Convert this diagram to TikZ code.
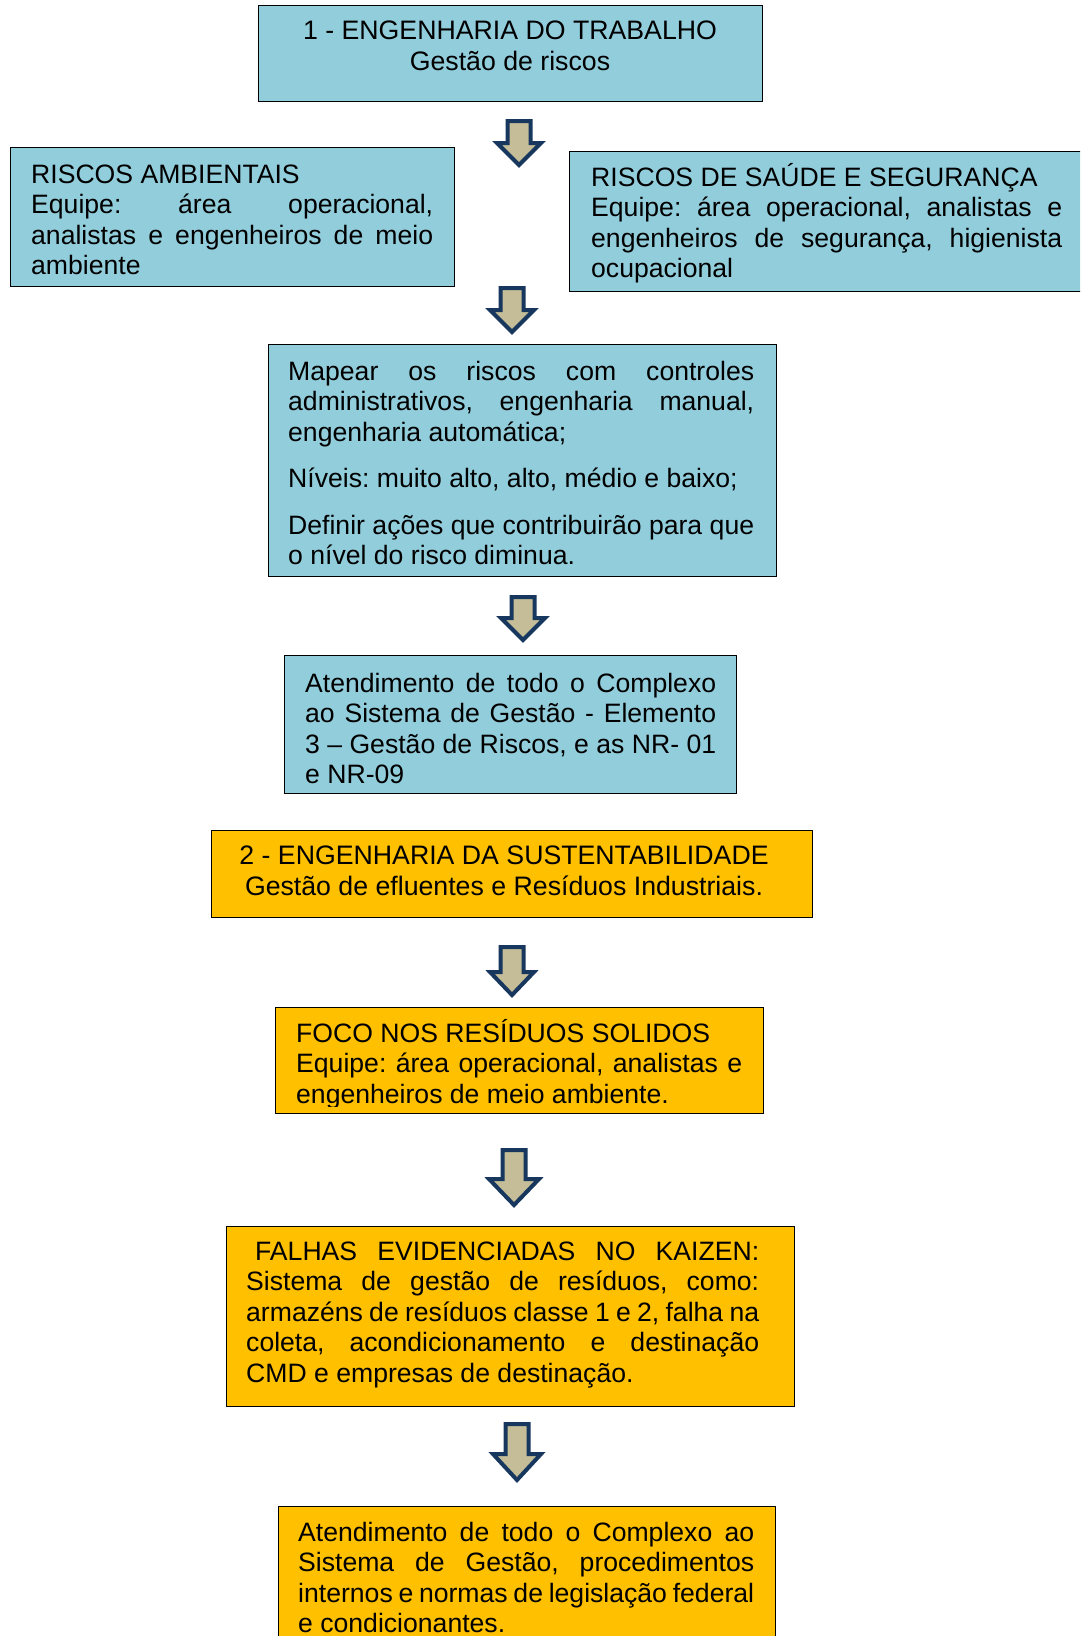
\documentclass[tikz,border=0pt]{standalone}
\usepackage{fontspec}
\setmainfont{Liberation Sans}
\frenchspacing
\definecolor{boxblue}{HTML}{92CDDC}
\definecolor{boxorange}{HTML}{FFC000}
\definecolor{arrowfill}{HTML}{C4BD97}
\definecolor{arrowline}{HTML}{17375E}
\newcommand\jl[2]{\makebox[#1][s]{#2}}
% #1 centre x, #2 top, #3 tip, #4 head half width, #5 shaft half width, #6 head length
\newcommand\blockarrow[6]{%
  \draw[barrow] ({#1-#5},#2) -- ({#1+#5},#2) -- ({#1+#5},{#3-#6}) -- ({#1+#4},{#3-#6})
    -- (#1,#3) -- ({#1-#4},{#3-#6}) -- ({#1-#5},{#3-#6}) -- cycle;}
\begin{document}
\begin{tikzpicture}[x=1pt,y=-1pt,
  box/.style={draw=black, line width=1.2pt, inner sep=0pt, anchor=north west},
  bluebox/.style={box, fill=boxblue},
  orangebox/.style={box, fill=boxorange},
  txt/.style={inner sep=0pt, anchor=base west, align=left, font=\fontsize{26.6}{30.5}\selectfont\frenchspacing,
    execute at begin node={\spaceskip=0pt\xspaceskip=0pt\relax}},
  ctxt/.style={inner sep=0pt, anchor=base, align=center, font=\fontsize{26.7}{31}\selectfont\frenchspacing,
    execute at begin node={\fontsize{26.7}{31}\selectfont\spaceskip=\fontdimen2\font\xspaceskip=\fontdimen2\font\relax}},
  barrow/.style={draw=arrowline, fill=arrowfill, line width=4pt, line join=miter}]
\useasboundingbox (0,0) rectangle (1080,1636);
\clip (0,0) rectangle (1080,1636);

% boxes
\node[bluebox, minimum width=504pt, minimum height=96pt] (b1) at (258,5) {};
\node[bluebox, minimum width=444pt, minimum height=139pt] (b2) at (10,147) {};
\node[bluebox, minimum width=530pt, minimum height=140pt] (b3) at (569,151) {};
\node[bluebox, minimum width=508pt, minimum height=232pt] (b4) at (268,344) {};
\node[bluebox, minimum width=452pt, minimum height=138pt] (b5) at (284,655) {};
\node[orangebox, minimum width=601pt, minimum height=87pt] (b6) at (211,830) {};
\node[orangebox, minimum width=488pt, minimum height=106pt] (b7) at (275,1007) {};
\node[orangebox, minimum width=568pt, minimum height=180pt] (b8) at (226,1226) {};
\node[orangebox, minimum width=497pt, minimum height=160pt] (b9) at (278,1506) {};

% texts
\node[ctxt, text width=480pt] (t1) at (510,39) {1 - ENGENHARIA DO TRABALHO\\Gestão de riscos};
\node[txt, text width=402pt] (t2) at (31,183) {RISCOS AMBIENTAIS\\
\jl{402pt}{Equipe: área operacional,}\\
\jl{402pt}{analistas e engenheiros de meio}\\
ambiente};
\node[txt, text width=471pt] (t3) at (591,186) {RISCOS DE SAÚDE E SEGURANÇA\\
\jl{471pt}{Equipe: área operacional, analistas e}\\
\jl{471pt}{engenheiros de segurança, higienista}\\
ocupacional};
\node[txt, text width=466pt] (t4) at (288,380) {\jl{466pt}{Mapear os riscos com controles}\\
\jl{466pt}{administrativos, engenharia manual,}\\
engenharia automática;\\[16pt]
Níveis: muito alto, alto, médio e baixo;\\[16pt]
\jl{466pt}{Definir ações que contribuirão para que}\\
o nível do risco diminua.};
\node[txt, text width=411pt] (t5) at (305,692) {\jl{411pt}{Atendimento de todo o Complexo}\\
\jl{411pt}{ao Sistema de Gestão - Elemento}\\
\jl{411pt}{3 – Gestão de Riscos, e as NR- 01}\\
e NR-09};
\node[ctxt, text width=590pt] (t6) at (504,864) {2 - ENGENHARIA DA SUSTENTABILIDADE\\Gestão de efluentes e Resíduos Industriais.};
\begin{scope}
\clip (275,1007) rectangle (763,1106);
\node[txt, text width=446pt] (t7) at (296,1042) {FOCO NOS RESÍDUOS SOLIDOS\\
\jl{446pt}{Equipe: área operacional, analistas e}\\
engenheiros de meio ambiente.};
\end{scope}
\node[txt, text width=513pt] (t8) at (246,1260) {\jl{513pt}{\hspace*{9pt}FALHAS EVIDENCIADAS NO KAIZEN:}\\
\jl{513pt}{Sistema de gestão de resíduos, como:}\\
\jl{513pt}{armazéns de resíduos classe 1 e 2, falha na}\\
\jl{513pt}{coleta, acondicionamento e destinação}\\
CMD e empresas de destinação.};
\node[txt, text width=456pt] (t9) at (298,1541) {\jl{456pt}{Atendimento de todo o Complexo ao}\\
\jl{456pt}{Sistema de Gestão, procedimentos}\\
\jl{456pt}{internos e normas de legislação federal}\\
e condicionantes.};

% block arrows
\blockarrow{519}{121}{165}{22}{11.5}{22}
\blockarrow{512}{288}{332}{22}{11.5}{22}
\blockarrow{523}{597}{640}{22}{11.5}{22}
\blockarrow{512}{947}{995}{22}{11.5}{23}
\blockarrow{514}{1150}{1205}{25}{11.5}{26}
\blockarrow{517}{1424}{1480}{24}{11.5}{26}
\end{tikzpicture}
\end{document}
